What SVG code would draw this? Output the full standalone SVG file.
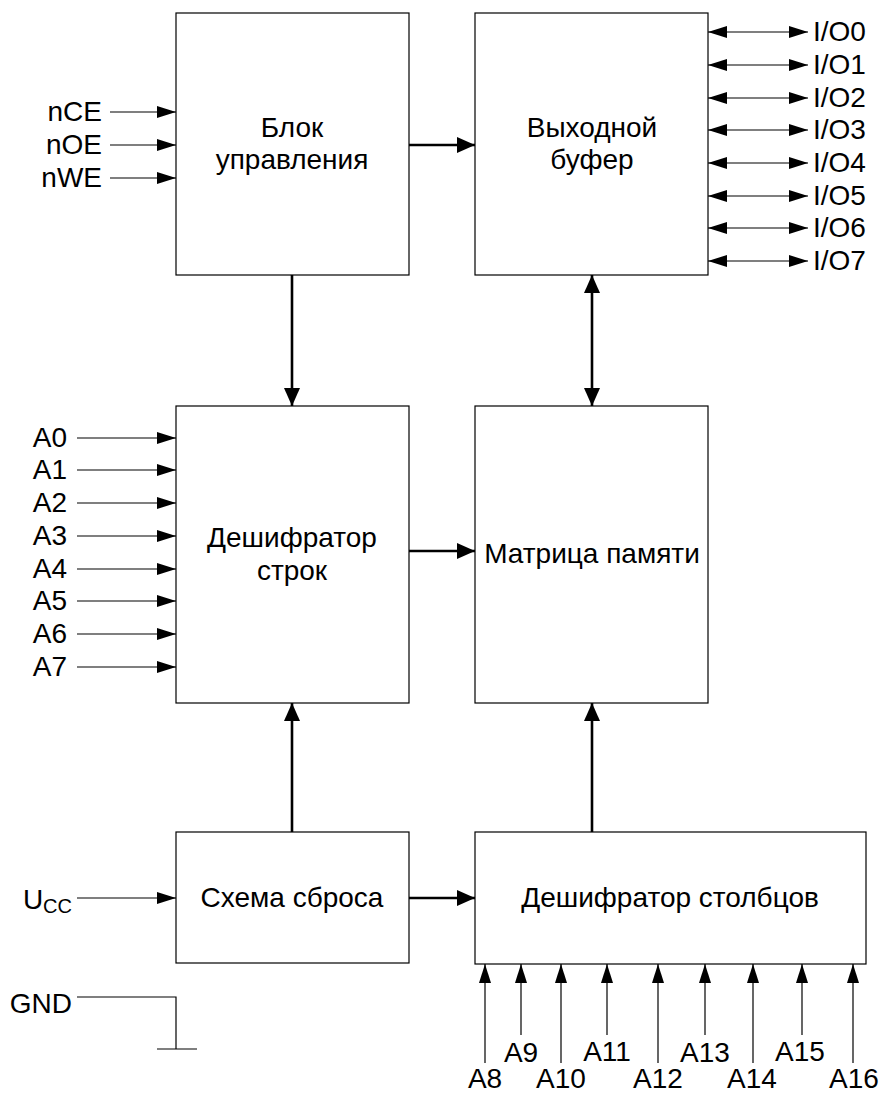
<svg xmlns="http://www.w3.org/2000/svg" width="882" height="1093" viewBox="0 0 882 1093">
<style>
.box{fill:#fff;stroke:#000;stroke-width:1.2}
.t{font-family:"Liberation Sans",Arial,sans-serif;font-size:28px;fill:#000}
.m{text-anchor:middle}
.e{text-anchor:end}
.thin{stroke:#000;stroke-width:1.2;fill:none}
.thick{stroke:#000;stroke-width:2.6;fill:none}
</style>
<defs>
<marker id="a" markerUnits="userSpaceOnUse" markerWidth="20" markerHeight="14" refX="19" refY="6" orient="auto"><path d="M0,0 L19,6 L0,12 Z" fill="#000"/></marker>
<marker id="as" markerUnits="userSpaceOnUse" markerWidth="20" markerHeight="14" refX="0" refY="6" orient="auto"><path d="M19,0 L0,6 L19,12 Z" fill="#000"/></marker>
<marker id="A" markerUnits="userSpaceOnUse" markerWidth="20" markerHeight="18" refX="18" refY="8" orient="auto"><path d="M0,0 L18,8 L0,16 Z" fill="#000"/></marker>
<marker id="AS" markerUnits="userSpaceOnUse" markerWidth="20" markerHeight="18" refX="0" refY="8" orient="auto"><path d="M18,0 L0,8 L18,16 Z" fill="#000"/></marker>
</defs>

<g id="control">
<rect class="box" x="176" y="13" width="233" height="262"/>
<text class="t m" x="292" y="137">Блок</text>
<text class="t m" x="292" y="169">управления</text>
</g>
<g id="outbuf">
<rect class="box" x="475" y="13" width="233" height="262"/>
<text class="t m" x="592" y="137">Выходной</text>
<text class="t m" x="592" y="169">буфер</text>
</g>
<g id="rowdec">
<rect class="box" x="176" y="406" width="233" height="297"/>
<text class="t m" x="292" y="547">Дешифратор</text>
<text class="t m" x="292" y="580">строк</text>
</g>
<g id="matrix">
<rect class="box" x="475" y="406" width="233" height="297"/>
<text class="t m" x="592" y="563">Матрица памяти</text>
</g>
<g id="reset">
<rect class="box" x="176" y="832" width="233" height="131"/>
<text class="t m" x="292" y="907">Схема сброса</text>
</g>
<g id="coldec">
<rect class="box" x="475" y="832" width="391" height="132"/>
<text class="t m" x="670" y="907">Дешифратор столбцов</text>
</g>

<g id="connectors">
<line class="thick" x1="409" y1="145" x2="475" y2="145" marker-end="url(#A)"/>
<line class="thick" x1="292" y1="275" x2="292" y2="406" marker-end="url(#A)"/>
<line class="thick" x1="592" y1="275" x2="592" y2="406" marker-start="url(#AS)" marker-end="url(#A)"/>
<line class="thick" x1="409" y1="551" x2="475" y2="551" marker-end="url(#A)"/>
<line class="thick" x1="292" y1="832" x2="292" y2="703" marker-end="url(#A)"/>
<line class="thick" x1="592" y1="832" x2="592" y2="703" marker-end="url(#A)"/>
<line class="thick" x1="409" y1="898" x2="475" y2="898" marker-end="url(#A)"/>

<line class="thin" x1="110" y1="112" x2="176" y2="112" marker-end="url(#a)"/>
<line class="thin" x1="110" y1="145" x2="176" y2="145" marker-end="url(#a)"/>
<line class="thin" x1="110" y1="178" x2="176" y2="178" marker-end="url(#a)"/>

<line class="thin" x1="708" y1="32" x2="808" y2="32" marker-start="url(#as)" marker-end="url(#a)"/>
<line class="thin" x1="708" y1="65" x2="808" y2="65" marker-start="url(#as)" marker-end="url(#a)"/>
<line class="thin" x1="708" y1="98" x2="808" y2="98" marker-start="url(#as)" marker-end="url(#a)"/>
<line class="thin" x1="708" y1="130" x2="808" y2="130" marker-start="url(#as)" marker-end="url(#a)"/>
<line class="thin" x1="708" y1="163" x2="808" y2="163" marker-start="url(#as)" marker-end="url(#a)"/>
<line class="thin" x1="708" y1="196" x2="808" y2="196" marker-start="url(#as)" marker-end="url(#a)"/>
<line class="thin" x1="708" y1="228" x2="808" y2="228" marker-start="url(#as)" marker-end="url(#a)"/>
<line class="thin" x1="708" y1="261" x2="808" y2="261" marker-start="url(#as)" marker-end="url(#a)"/>

<line class="thin" x1="77" y1="438" x2="176" y2="438" marker-end="url(#a)"/>
<line class="thin" x1="77" y1="470" x2="176" y2="470" marker-end="url(#a)"/>
<line class="thin" x1="77" y1="503" x2="176" y2="503" marker-end="url(#a)"/>
<line class="thin" x1="77" y1="536" x2="176" y2="536" marker-end="url(#a)"/>
<line class="thin" x1="77" y1="569" x2="176" y2="569" marker-end="url(#a)"/>
<line class="thin" x1="77" y1="601" x2="176" y2="601" marker-end="url(#a)"/>
<line class="thin" x1="77" y1="634" x2="176" y2="634" marker-end="url(#a)"/>
<line class="thin" x1="77" y1="667" x2="176" y2="667" marker-end="url(#a)"/>

<line class="thin" x1="77" y1="898" x2="176" y2="898" marker-end="url(#a)"/>
<polyline class="thin" points="77,997 176,997 176,1049"/>
<line class="thin" x1="157" y1="1049" x2="197" y2="1049"/>

<line class="thin" x1="485" y1="1063" x2="485" y2="964" marker-end="url(#a)"/>
<line class="thin" x1="521" y1="1035" x2="521" y2="964" marker-end="url(#a)"/>
<line class="thin" x1="561" y1="1063" x2="561" y2="964" marker-end="url(#a)"/>
<line class="thin" x1="607" y1="1035" x2="607" y2="964" marker-end="url(#a)"/>
<line class="thin" x1="658" y1="1063" x2="658" y2="964" marker-end="url(#a)"/>
<line class="thin" x1="705" y1="1035" x2="705" y2="964" marker-end="url(#a)"/>
<line class="thin" x1="753" y1="1063" x2="753" y2="964" marker-end="url(#a)"/>
<line class="thin" x1="802" y1="1035" x2="802" y2="964" marker-end="url(#a)"/>
<line class="thin" x1="853" y1="1063" x2="853" y2="964" marker-end="url(#a)"/>
</g>

<g id="labels">
<text class="t e" x="102" y="121">nCE</text>
<text class="t e" x="102" y="154">nOE</text>
<text class="t e" x="102" y="187">nWE</text>

<text class="t" x="813" y="41">I/O0</text>
<text class="t" x="813" y="74">I/O1</text>
<text class="t" x="813" y="107">I/O2</text>
<text class="t" x="813" y="139">I/O3</text>
<text class="t" x="813" y="172">I/O4</text>
<text class="t" x="813" y="205">I/O5</text>
<text class="t" x="813" y="237">I/O6</text>
<text class="t" x="813" y="270">I/O7</text>

<text class="t e" x="67" y="447">A0</text>
<text class="t e" x="67" y="479">A1</text>
<text class="t e" x="67" y="512">A2</text>
<text class="t e" x="67" y="545">A3</text>
<text class="t e" x="67" y="578">A4</text>
<text class="t e" x="67" y="610">A5</text>
<text class="t e" x="67" y="643">A6</text>
<text class="t e" x="67" y="676">A7</text>

<text class="t e" x="72" y="909">U<tspan font-size="20" dy="4">CC</tspan></text>
<text class="t e" x="72" y="1013">GND</text>

<text class="t m" x="485" y="1088">A8</text>
<text class="t m" x="521" y="1062">A9</text>
<text class="t m" x="561" y="1088">A10</text>
<text class="t m" x="607" y="1061">A11</text>
<text class="t m" x="658" y="1088">A12</text>
<text class="t m" x="705" y="1062">A13</text>
<text class="t m" x="752" y="1088">A14</text>
<text class="t m" x="800" y="1061">A15</text>
<text class="t m" x="854" y="1088">A16</text>
</g>
</svg>
